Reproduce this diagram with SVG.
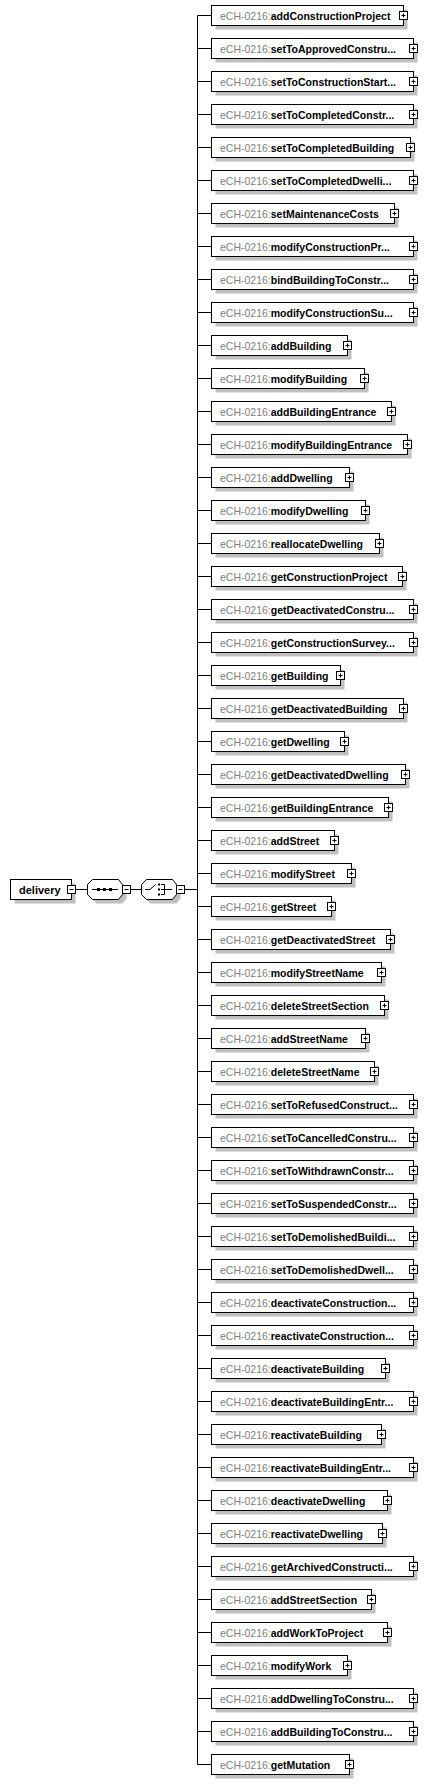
<svg xmlns="http://www.w3.org/2000/svg" xmlns:xlink="http://www.w3.org/1999/xlink" width="427" height="1784" viewBox="0 0 427 1784">
<style>
.sh{fill:#c0c0c0}
.bx{fill:#fff;stroke:#000;stroke-width:1}
.t{font-family:"Liberation Sans",Arial,sans-serif;font-size:10.5px}
.d{font-size:11px}
.p{fill:#808080}
.b{font-weight:bold;fill:#000}
.ln{stroke:#000;stroke-width:1;fill:none}
.dot{fill:#000}
</style>
<defs>
<g id="plus"><rect x="-4" y="-4" width="8" height="8" fill="#fff" stroke="#000"/><path d="M-2,0H2M0,-2V2" stroke="#000" fill="none"/></g>
<g id="minus"><rect x="-4" y="-4" width="8" height="8" fill="#fff" stroke="#000"/><path d="M-2,0H2" stroke="#000" fill="none"/></g>
</defs>
<rect width="427" height="1784" fill="#fff"/>
<g id="connectors" class="ln">
<path d="M75.5,889.5H87.5M130.5,889.5H141.5M184.5,889.5H197.5M197.5,15.5V1764.5"/>
<path d="M197.5,15.5h14M197.5,48.5h14M197.5,81.5h14M197.5,114.5h14M197.5,147.5h14M197.5,180.5h14M197.5,213.5h14M197.5,246.5h14M197.5,279.5h14M197.5,312.5h14M197.5,345.5h14M197.5,378.5h14M197.5,411.5h14M197.5,444.5h14M197.5,477.5h14M197.5,510.5h14M197.5,543.5h14M197.5,576.5h14M197.5,609.5h14M197.5,642.5h14M197.5,675.5h14M197.5,708.5h14M197.5,741.5h14M197.5,774.5h14M197.5,807.5h14M197.5,840.5h14M197.5,873.5h14M197.5,906.5h14M197.5,939.5h14M197.5,972.5h14M197.5,1005.5h14M197.5,1038.5h14M197.5,1071.5h14M197.5,1104.5h14M197.5,1137.5h14M197.5,1170.5h14M197.5,1203.5h14M197.5,1236.5h14M197.5,1269.5h14M197.5,1302.5h14M197.5,1335.5h14M197.5,1368.5h14M197.5,1401.5h14M197.5,1434.5h14M197.5,1467.5h14M197.5,1500.5h14M197.5,1533.5h14M197.5,1566.5h14M197.5,1599.5h14M197.5,1632.5h14M197.5,1665.5h14M197.5,1698.5h14M197.5,1731.5h14M197.5,1764.5h14"/>
</g>
<g id="delivery">
<rect class="sh" x="14.5" y="883.5" width="61" height="20"/>
<rect class="bx" x="10.5" y="879.5" width="61" height="20"/>
<text class="t d b" x="19" y="893.5">delivery</text>
<use href="#minus" x="71.5" y="889.5"/>
</g>
<g id="sequence">
<polygon class="sh" points="96.5,883.5 122.5,883.5 126.5,888.5 126.5,898.5 122.5,903.5 96.5,903.5 91.5,898.5 91.5,888.5"/>
<polygon class="bx" points="92.5,879.5 118.5,879.5 122.5,884.5 122.5,894.5 118.5,899.5 92.5,899.5 87.5,894.5 87.5,884.5"/>
<path class="ln" d="M92,889.5H118"/>
<rect class="dot" x="97" y="888" width="3" height="3"/><rect class="dot" x="103" y="888" width="3" height="3"/><rect class="dot" x="109" y="888" width="3" height="3"/>
<use href="#minus" x="126.5" y="889.5"/>
</g>
<g id="choice">
<polygon class="sh" points="150.5,883.5 176.5,883.5 180.5,888.5 180.5,898.5 176.5,903.5 150.5,903.5 145.5,898.5 145.5,888.5"/>
<polygon class="bx" points="146.5,879.5 172.5,879.5 176.5,884.5 176.5,894.5 172.5,899.5 146.5,899.5 141.5,894.5 141.5,884.5"/>
<path class="ln" d="M145,889.5H150L155.5,884.5M161,884.5H164.5V894.5H161M161,889.5H172"/>
<rect class="dot" x="158" y="883.5" width="2" height="2"/><rect class="dot" x="158" y="888.5" width="2" height="2"/><rect class="dot" x="158" y="893.5" width="2" height="2"/>
<use href="#minus" x="180.5" y="889.5"/>
</g>
<g id="n1" transform="translate(0,0)"><rect class="sh" x="215.5" y="9.5" width="192" height="20"/><rect class="bx" x="211.5" y="5.5" width="192" height="20"/><text class="t" x="220" y="19.5"><tspan class="p">eCH-0216:</tspan><tspan class="b">addConstructionProject</tspan></text><use href="#plus" x="403.5" y="15.5"/></g>
<g id="n2" transform="translate(0,33)"><rect class="sh" x="215.5" y="9.5" width="202" height="20"/><rect class="bx" x="211.5" y="5.5" width="202" height="20"/><text class="t" x="220" y="19.5"><tspan class="p">eCH-0216:</tspan><tspan class="b">setToApprovedConstru...</tspan></text><use href="#plus" x="413.5" y="15.5"/></g>
<g id="n3" transform="translate(0,66)"><rect class="sh" x="215.5" y="9.5" width="202" height="20"/><rect class="bx" x="211.5" y="5.5" width="202" height="20"/><text class="t" x="220" y="19.5"><tspan class="p">eCH-0216:</tspan><tspan class="b">setToConstructionStart...</tspan></text><use href="#plus" x="413.5" y="15.5"/></g>
<g id="n4" transform="translate(0,99)"><rect class="sh" x="215.5" y="9.5" width="202" height="20"/><rect class="bx" x="211.5" y="5.5" width="202" height="20"/><text class="t" x="220" y="19.5"><tspan class="p">eCH-0216:</tspan><tspan class="b">setToCompletedConstr...</tspan></text><use href="#plus" x="413.5" y="15.5"/></g>
<g id="n5" transform="translate(0,132)"><rect class="sh" x="215.5" y="9.5" width="199" height="20"/><rect class="bx" x="211.5" y="5.5" width="199" height="20"/><text class="t" x="220" y="19.5"><tspan class="p">eCH-0216:</tspan><tspan class="b">setToCompletedBuilding</tspan></text><use href="#plus" x="410.5" y="15.5"/></g>
<g id="n6" transform="translate(0,165)"><rect class="sh" x="215.5" y="9.5" width="202" height="20"/><rect class="bx" x="211.5" y="5.5" width="202" height="20"/><text class="t" x="220" y="19.5"><tspan class="p">eCH-0216:</tspan><tspan class="b">setToCompletedDwelli...</tspan></text><use href="#plus" x="413.5" y="15.5"/></g>
<g id="n7" transform="translate(0,198)"><rect class="sh" x="215.5" y="9.5" width="183" height="20"/><rect class="bx" x="211.5" y="5.5" width="183" height="20"/><text class="t" x="220" y="19.5"><tspan class="p">eCH-0216:</tspan><tspan class="b">setMaintenanceCosts</tspan></text><use href="#plus" x="394.5" y="15.5"/></g>
<g id="n8" transform="translate(0,231)"><rect class="sh" x="215.5" y="9.5" width="202" height="20"/><rect class="bx" x="211.5" y="5.5" width="202" height="20"/><text class="t" x="220" y="19.5"><tspan class="p">eCH-0216:</tspan><tspan class="b">modifyConstructionPr...</tspan></text><use href="#plus" x="413.5" y="15.5"/></g>
<g id="n9" transform="translate(0,264)"><rect class="sh" x="215.5" y="9.5" width="202" height="20"/><rect class="bx" x="211.5" y="5.5" width="202" height="20"/><text class="t" x="220" y="19.5"><tspan class="p">eCH-0216:</tspan><tspan class="b">bindBuildingToConstr...</tspan></text><use href="#plus" x="413.5" y="15.5"/></g>
<g id="n10" transform="translate(0,297)"><rect class="sh" x="215.5" y="9.5" width="202" height="20"/><rect class="bx" x="211.5" y="5.5" width="202" height="20"/><text class="t" x="220" y="19.5"><tspan class="p">eCH-0216:</tspan><tspan class="b">modifyConstructionSu...</tspan></text><use href="#plus" x="413.5" y="15.5"/></g>
<g id="n11" transform="translate(0,330)"><rect class="sh" x="215.5" y="9.5" width="136" height="20"/><rect class="bx" x="211.5" y="5.5" width="136" height="20"/><text class="t" x="220" y="19.5"><tspan class="p">eCH-0216:</tspan><tspan class="b">addBuilding</tspan></text><use href="#plus" x="347.5" y="15.5"/></g>
<g id="n12" transform="translate(0,363)"><rect class="sh" x="215.5" y="9.5" width="153" height="20"/><rect class="bx" x="211.5" y="5.5" width="153" height="20"/><text class="t" x="220" y="19.5"><tspan class="p">eCH-0216:</tspan><tspan class="b">modifyBuilding</tspan></text><use href="#plus" x="364.5" y="15.5"/></g>
<g id="n13" transform="translate(0,396)"><rect class="sh" x="215.5" y="9.5" width="180" height="20"/><rect class="bx" x="211.5" y="5.5" width="180" height="20"/><text class="t" x="220" y="19.5"><tspan class="p">eCH-0216:</tspan><tspan class="b">addBuildingEntrance</tspan></text><use href="#plus" x="391.5" y="15.5"/></g>
<g id="n14" transform="translate(0,429)"><rect class="sh" x="215.5" y="9.5" width="196" height="20"/><rect class="bx" x="211.5" y="5.5" width="196" height="20"/><text class="t" x="220" y="19.5"><tspan class="p">eCH-0216:</tspan><tspan class="b">modifyBuildingEntrance</tspan></text><use href="#plus" x="407.5" y="15.5"/></g>
<g id="n15" transform="translate(0,462)"><rect class="sh" x="215.5" y="9.5" width="138" height="20"/><rect class="bx" x="211.5" y="5.5" width="138" height="20"/><text class="t" x="220" y="19.5"><tspan class="p">eCH-0216:</tspan><tspan class="b">addDwelling</tspan></text><use href="#plus" x="349.5" y="15.5"/></g>
<g id="n16" transform="translate(0,495)"><rect class="sh" x="215.5" y="9.5" width="154" height="20"/><rect class="bx" x="211.5" y="5.5" width="154" height="20"/><text class="t" x="220" y="19.5"><tspan class="p">eCH-0216:</tspan><tspan class="b">modifyDwelling</tspan></text><use href="#plus" x="365.5" y="15.5"/></g>
<g id="n17" transform="translate(0,528)"><rect class="sh" x="215.5" y="9.5" width="168" height="20"/><rect class="bx" x="211.5" y="5.5" width="168" height="20"/><text class="t" x="220" y="19.5"><tspan class="p">eCH-0216:</tspan><tspan class="b">reallocateDwelling</tspan></text><use href="#plus" x="379.5" y="15.5"/></g>
<g id="n18" transform="translate(0,561)"><rect class="sh" x="215.5" y="9.5" width="191" height="20"/><rect class="bx" x="211.5" y="5.5" width="191" height="20"/><text class="t" x="220" y="19.5"><tspan class="p">eCH-0216:</tspan><tspan class="b">getConstructionProject</tspan></text><use href="#plus" x="402.5" y="15.5"/></g>
<g id="n19" transform="translate(0,594)"><rect class="sh" x="215.5" y="9.5" width="202" height="20"/><rect class="bx" x="211.5" y="5.5" width="202" height="20"/><text class="t" x="220" y="19.5"><tspan class="p">eCH-0216:</tspan><tspan class="b">getDeactivatedConstru...</tspan></text><use href="#plus" x="413.5" y="15.5"/></g>
<g id="n20" transform="translate(0,627)"><rect class="sh" x="215.5" y="9.5" width="202" height="20"/><rect class="bx" x="211.5" y="5.5" width="202" height="20"/><text class="t" x="220" y="19.5"><tspan class="p">eCH-0216:</tspan><tspan class="b">getConstructionSurvey...</tspan></text><use href="#plus" x="413.5" y="15.5"/></g>
<g id="n21" transform="translate(0,660)"><rect class="sh" x="215.5" y="9.5" width="129" height="20"/><rect class="bx" x="211.5" y="5.5" width="129" height="20"/><text class="t" x="220" y="19.5"><tspan class="p">eCH-0216:</tspan><tspan class="b">getBuilding</tspan></text><use href="#plus" x="340.5" y="15.5"/></g>
<g id="n22" transform="translate(0,693)"><rect class="sh" x="215.5" y="9.5" width="192" height="20"/><rect class="bx" x="211.5" y="5.5" width="192" height="20"/><text class="t" x="220" y="19.5"><tspan class="p">eCH-0216:</tspan><tspan class="b">getDeactivatedBuilding</tspan></text><use href="#plus" x="403.5" y="15.5"/></g>
<g id="n23" transform="translate(0,726)"><rect class="sh" x="215.5" y="9.5" width="133" height="20"/><rect class="bx" x="211.5" y="5.5" width="133" height="20"/><text class="t" x="220" y="19.5"><tspan class="p">eCH-0216:</tspan><tspan class="b">getDwelling</tspan></text><use href="#plus" x="344.5" y="15.5"/></g>
<g id="n24" transform="translate(0,759)"><rect class="sh" x="215.5" y="9.5" width="194" height="20"/><rect class="bx" x="211.5" y="5.5" width="194" height="20"/><text class="t" x="220" y="19.5"><tspan class="p">eCH-0216:</tspan><tspan class="b">getDeactivatedDwelling</tspan></text><use href="#plus" x="405.5" y="15.5"/></g>
<g id="n25" transform="translate(0,792)"><rect class="sh" x="215.5" y="9.5" width="177" height="20"/><rect class="bx" x="211.5" y="5.5" width="177" height="20"/><text class="t" x="220" y="19.5"><tspan class="p">eCH-0216:</tspan><tspan class="b">getBuildingEntrance</tspan></text><use href="#plus" x="388.5" y="15.5"/></g>
<g id="n26" transform="translate(0,825)"><rect class="sh" x="215.5" y="9.5" width="123" height="20"/><rect class="bx" x="211.5" y="5.5" width="123" height="20"/><text class="t" x="220" y="19.5"><tspan class="p">eCH-0216:</tspan><tspan class="b">addStreet</tspan></text><use href="#plus" x="334.5" y="15.5"/></g>
<g id="n27" transform="translate(0,858)"><rect class="sh" x="215.5" y="9.5" width="140" height="20"/><rect class="bx" x="211.5" y="5.5" width="140" height="20"/><text class="t" x="220" y="19.5"><tspan class="p">eCH-0216:</tspan><tspan class="b">modifyStreet</tspan></text><use href="#plus" x="351.5" y="15.5"/></g>
<g id="n28" transform="translate(0,891)"><rect class="sh" x="215.5" y="9.5" width="120" height="20"/><rect class="bx" x="211.5" y="5.5" width="120" height="20"/><text class="t" x="220" y="19.5"><tspan class="p">eCH-0216:</tspan><tspan class="b">getStreet</tspan></text><use href="#plus" x="331.5" y="15.5"/></g>
<g id="n29" transform="translate(0,924)"><rect class="sh" x="215.5" y="9.5" width="179" height="20"/><rect class="bx" x="211.5" y="5.5" width="179" height="20"/><text class="t" x="220" y="19.5"><tspan class="p">eCH-0216:</tspan><tspan class="b">getDeactivatedStreet</tspan></text><use href="#plus" x="390.5" y="15.5"/></g>
<g id="n30" transform="translate(0,957)"><rect class="sh" x="215.5" y="9.5" width="170" height="20"/><rect class="bx" x="211.5" y="5.5" width="170" height="20"/><text class="t" x="220" y="19.5"><tspan class="p">eCH-0216:</tspan><tspan class="b">modifyStreetName</tspan></text><use href="#plus" x="381.5" y="15.5"/></g>
<g id="n31" transform="translate(0,990)"><rect class="sh" x="215.5" y="9.5" width="173" height="20"/><rect class="bx" x="211.5" y="5.5" width="173" height="20"/><text class="t" x="220" y="19.5"><tspan class="p">eCH-0216:</tspan><tspan class="b">deleteStreetSection</tspan></text><use href="#plus" x="384.5" y="15.5"/></g>
<g id="n32" transform="translate(0,1023)"><rect class="sh" x="215.5" y="9.5" width="154" height="20"/><rect class="bx" x="211.5" y="5.5" width="154" height="20"/><text class="t" x="220" y="19.5"><tspan class="p">eCH-0216:</tspan><tspan class="b">addStreetName</tspan></text><use href="#plus" x="365.5" y="15.5"/></g>
<g id="n33" transform="translate(0,1056)"><rect class="sh" x="215.5" y="9.5" width="163" height="20"/><rect class="bx" x="211.5" y="5.5" width="163" height="20"/><text class="t" x="220" y="19.5"><tspan class="p">eCH-0216:</tspan><tspan class="b">deleteStreetName</tspan></text><use href="#plus" x="374.5" y="15.5"/></g>
<g id="n34" transform="translate(0,1089)"><rect class="sh" x="215.5" y="9.5" width="202" height="20"/><rect class="bx" x="211.5" y="5.5" width="202" height="20"/><text class="t" x="220" y="19.5"><tspan class="p">eCH-0216:</tspan><tspan class="b">setToRefusedConstruct...</tspan></text><use href="#plus" x="413.5" y="15.5"/></g>
<g id="n35" transform="translate(0,1122)"><rect class="sh" x="215.5" y="9.5" width="202" height="20"/><rect class="bx" x="211.5" y="5.5" width="202" height="20"/><text class="t" x="220" y="19.5"><tspan class="p">eCH-0216:</tspan><tspan class="b">setToCancelledConstru...</tspan></text><use href="#plus" x="413.5" y="15.5"/></g>
<g id="n36" transform="translate(0,1155)"><rect class="sh" x="215.5" y="9.5" width="202" height="20"/><rect class="bx" x="211.5" y="5.5" width="202" height="20"/><text class="t" x="220" y="19.5"><tspan class="p">eCH-0216:</tspan><tspan class="b">setToWithdrawnConstr...</tspan></text><use href="#plus" x="413.5" y="15.5"/></g>
<g id="n37" transform="translate(0,1188)"><rect class="sh" x="215.5" y="9.5" width="202" height="20"/><rect class="bx" x="211.5" y="5.5" width="202" height="20"/><text class="t" x="220" y="19.5"><tspan class="p">eCH-0216:</tspan><tspan class="b">setToSuspendedConstr...</tspan></text><use href="#plus" x="413.5" y="15.5"/></g>
<g id="n38" transform="translate(0,1221)"><rect class="sh" x="215.5" y="9.5" width="202" height="20"/><rect class="bx" x="211.5" y="5.5" width="202" height="20"/><text class="t" x="220" y="19.5"><tspan class="p">eCH-0216:</tspan><tspan class="b">setToDemolishedBuildi...</tspan></text><use href="#plus" x="413.5" y="15.5"/></g>
<g id="n39" transform="translate(0,1254)"><rect class="sh" x="215.5" y="9.5" width="202" height="20"/><rect class="bx" x="211.5" y="5.5" width="202" height="20"/><text class="t" x="220" y="19.5"><tspan class="p">eCH-0216:</tspan><tspan class="b">setToDemolishedDwell...</tspan></text><use href="#plus" x="413.5" y="15.5"/></g>
<g id="n40" transform="translate(0,1287)"><rect class="sh" x="215.5" y="9.5" width="202" height="20"/><rect class="bx" x="211.5" y="5.5" width="202" height="20"/><text class="t" x="220" y="19.5"><tspan class="p">eCH-0216:</tspan><tspan class="b">deactivateConstruction...</tspan></text><use href="#plus" x="413.5" y="15.5"/></g>
<g id="n41" transform="translate(0,1320)"><rect class="sh" x="215.5" y="9.5" width="202" height="20"/><rect class="bx" x="211.5" y="5.5" width="202" height="20"/><text class="t" x="220" y="19.5"><tspan class="p">eCH-0216:</tspan><tspan class="b">reactivateConstruction...</tspan></text><use href="#plus" x="413.5" y="15.5"/></g>
<g id="n42" transform="translate(0,1353)"><rect class="sh" x="215.5" y="9.5" width="174" height="20"/><rect class="bx" x="211.5" y="5.5" width="174" height="20"/><text class="t" x="220" y="19.5"><tspan class="p">eCH-0216:</tspan><tspan class="b">deactivateBuilding</tspan></text><use href="#plus" x="385.5" y="15.5"/></g>
<g id="n43" transform="translate(0,1386)"><rect class="sh" x="215.5" y="9.5" width="202" height="20"/><rect class="bx" x="211.5" y="5.5" width="202" height="20"/><text class="t" x="220" y="19.5"><tspan class="p">eCH-0216:</tspan><tspan class="b">deactivateBuildingEntr...</tspan></text><use href="#plus" x="413.5" y="15.5"/></g>
<g id="n44" transform="translate(0,1419)"><rect class="sh" x="215.5" y="9.5" width="170" height="20"/><rect class="bx" x="211.5" y="5.5" width="170" height="20"/><text class="t" x="220" y="19.5"><tspan class="p">eCH-0216:</tspan><tspan class="b">reactivateBuilding</tspan></text><use href="#plus" x="381.5" y="15.5"/></g>
<g id="n45" transform="translate(0,1452)"><rect class="sh" x="215.5" y="9.5" width="202" height="20"/><rect class="bx" x="211.5" y="5.5" width="202" height="20"/><text class="t" x="220" y="19.5"><tspan class="p">eCH-0216:</tspan><tspan class="b">reactivateBuildingEntr...</tspan></text><use href="#plus" x="413.5" y="15.5"/></g>
<g id="n46" transform="translate(0,1485)"><rect class="sh" x="215.5" y="9.5" width="176" height="20"/><rect class="bx" x="211.5" y="5.5" width="176" height="20"/><text class="t" x="220" y="19.5"><tspan class="p">eCH-0216:</tspan><tspan class="b">deactivateDwelling</tspan></text><use href="#plus" x="387.5" y="15.5"/></g>
<g id="n47" transform="translate(0,1518)"><rect class="sh" x="215.5" y="9.5" width="171" height="20"/><rect class="bx" x="211.5" y="5.5" width="171" height="20"/><text class="t" x="220" y="19.5"><tspan class="p">eCH-0216:</tspan><tspan class="b">reactivateDwelling</tspan></text><use href="#plus" x="382.5" y="15.5"/></g>
<g id="n48" transform="translate(0,1551)"><rect class="sh" x="215.5" y="9.5" width="202" height="20"/><rect class="bx" x="211.5" y="5.5" width="202" height="20"/><text class="t" x="220" y="19.5"><tspan class="p">eCH-0216:</tspan><tspan class="b">getArchivedConstructi...</tspan></text><use href="#plus" x="413.5" y="15.5"/></g>
<g id="n49" transform="translate(0,1584)"><rect class="sh" x="215.5" y="9.5" width="160" height="20"/><rect class="bx" x="211.5" y="5.5" width="160" height="20"/><text class="t" x="220" y="19.5"><tspan class="p">eCH-0216:</tspan><tspan class="b">addStreetSection</tspan></text><use href="#plus" x="371.5" y="15.5"/></g>
<g id="n50" transform="translate(0,1617)"><rect class="sh" x="215.5" y="9.5" width="176" height="20"/><rect class="bx" x="211.5" y="5.5" width="176" height="20"/><text class="t" x="220" y="19.5"><tspan class="p">eCH-0216:</tspan><tspan class="b">addWorkToProject</tspan></text><use href="#plus" x="387.5" y="15.5"/></g>
<g id="n51" transform="translate(0,1650)"><rect class="sh" x="215.5" y="9.5" width="136" height="20"/><rect class="bx" x="211.5" y="5.5" width="136" height="20"/><text class="t" x="220" y="19.5"><tspan class="p">eCH-0216:</tspan><tspan class="b">modifyWork</tspan></text><use href="#plus" x="347.5" y="15.5"/></g>
<g id="n52" transform="translate(0,1683)"><rect class="sh" x="215.5" y="9.5" width="202" height="20"/><rect class="bx" x="211.5" y="5.5" width="202" height="20"/><text class="t" x="220" y="19.5"><tspan class="p">eCH-0216:</tspan><tspan class="b">addDwellingToConstru...</tspan></text><use href="#plus" x="413.5" y="15.5"/></g>
<g id="n53" transform="translate(0,1716)"><rect class="sh" x="215.5" y="9.5" width="202" height="20"/><rect class="bx" x="211.5" y="5.5" width="202" height="20"/><text class="t" x="220" y="19.5"><tspan class="p">eCH-0216:</tspan><tspan class="b">addBuildingToConstru...</tspan></text><use href="#plus" x="413.5" y="15.5"/></g>
<g id="n54" transform="translate(0,1749)"><rect class="sh" x="215.5" y="9.5" width="138" height="20"/><rect class="bx" x="211.5" y="5.5" width="138" height="20"/><text class="t" x="220" y="19.5"><tspan class="p">eCH-0216:</tspan><tspan class="b">getMutation</tspan></text><use href="#plus" x="349.5" y="15.5"/></g>
</svg>
